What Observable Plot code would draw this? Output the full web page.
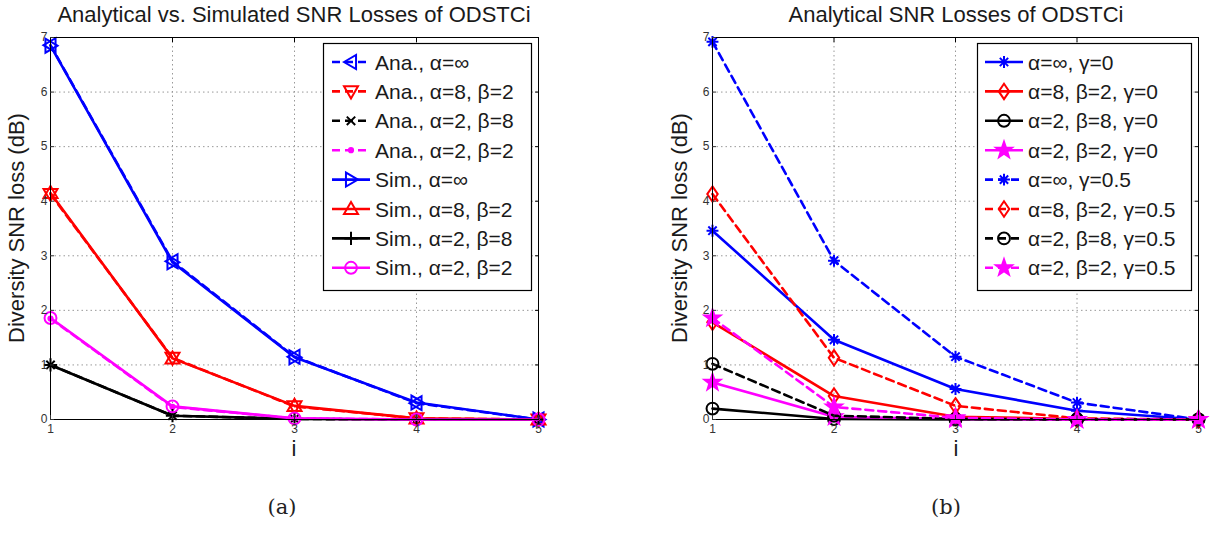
<!DOCTYPE html>
<html><head><meta charset="utf-8">
<script src="https://cdn.jsdelivr.net/npm/d3@7"></script>
<script src="https://cdn.jsdelivr.net/npm/@observablehq/plot@0.6"></script>
<style>
body{margin:0;background:#fff;font-family:"Liberation Sans",Arial,Helvetica,sans-serif;}
#wrap{position:relative;width:1213px;height:533px;overflow:hidden;background:#fff;}
.abs{position:absolute;white-space:nowrap;}
.abs svg{max-width:none !important;}
.title{font-size:22px;color:#1a1a1a;transform:translateX(-50%);}
.ylab{font-size:22px;color:#1a1a1a;transform:translate(-50%,-50%) rotate(-90deg);}
.xlab{font-size:22px;color:#1a1a1a;transform:translate(-50%,-50%);}
.cap{font-family:"DejaVu Serif","Liberation Serif",serif;font-size:21px;color:#222;transform:translate(-50%,-50%);}
</style></head>
<body><div id="wrap"></div>
<script>
// ---------- data ----------
const iValues = [1, 2, 3, 4, 5];
const yTicks = [0, 1, 2, 3, 4, 5, 6, 7];

// (a) Analytical vs simulated
const anaInf = [6.86, 2.90, 1.15, 0.30, 0];
const ana82  = [4.13, 1.13, 0.24, 0.02, 0];
const ana28  = [1.00, 0.07, 0.01, 0.00, 0];
const ana22  = [1.85, 0.23, 0.02, 0.00, 0];
const simInf = [6.85, 2.88, 1.14, 0.31, 0];
const sim82  = [4.15, 1.12, 0.25, 0.02, 0];
const sim28  = [1.00, 0.07, 0.01, 0.00, 0];
const sim22  = [1.86, 0.24, 0.02, 0.00, 0];

// (b) Analytical, gamma = 0 and gamma = 0.5
const g0Inf = [3.46, 1.46, 0.56, 0.16, 0];
const g0_82 = [1.78, 0.43, 0.05, 0.01, 0];
const g0_28 = [0.20, 0.01, 0.00, 0.00, 0];
const g0_22 = [0.68, 0.05, 0.01, 0.00, 0];
const g5Inf = [6.92, 2.91, 1.15, 0.31, 0];
const g5_82 = [4.13, 1.13, 0.25, 0.02, 0];
const g5_28 = [1.02, 0.07, 0.01, 0.00, 0];
const g5_22 = [1.86, 0.23, 0.03, 0.00, 0];

const leftLabels = ["Ana., α=∞","Ana., α=8, β=2","Ana., α=2, β=8","Ana., α=2, β=2",
                    "Sim., α=∞","Sim., α=8, β=2","Sim., α=2, β=8","Sim., α=2, β=2"];
const rightLabels = ["α=∞, γ=0","α=8, β=2, γ=0","α=2, β=8, γ=0","α=2, β=2, γ=0",
                     "α=∞, γ=0.5","α=8, β=2, γ=0.5","α=2, β=8, γ=0.5","α=2, β=2, γ=0.5"];
const titleA = "Analytical vs. Simulated SNR Losses of ODSTCi";
const titleB = "Analytical SNR Losses of ODSTCi";
const yLabel = "Diversity SNR loss (dB)";
const xLabel = "i";

// ---------- symbols ----------
const rad = s => Math.sqrt(s / Math.PI);
function poly(pts){return {draw(c,s){const r=rad(s);pts.forEach(([x,y],k)=>k?c.lineTo(x*r,y*r):c.moveTo(x*r,y*r));c.closePath();}};}
const triLeft = poly([[-1,0],[0.72,-1],[0.72,1]]);
const triRight = poly([[1,0],[-0.72,-1],[-0.72,1]]);
const triDown = poly([[0,1],[-1,-0.72],[1,-0.72]]);
const triUp = poly([[0,-1],[-1,0.72],[1,0.72]]);
const diamond = poly([[0,-1.1],[0.75,0],[0,1.1],[-0.75,0]]);
const timesSym = {draw(c,s){const r=rad(s)*0.6;c.moveTo(-r,-r);c.lineTo(r,r);c.moveTo(r,-r);c.lineTo(-r,r);}};
const plusSym = {draw(c,s){const r=rad(s)*0.95;c.moveTo(-r,0);c.lineTo(r,0);c.moveTo(0,-r);c.lineTo(0,r);}};
const asterisk = {draw(c,s){const r=rad(s)*0.85,d=r*0.7;c.moveTo(-r,0);c.lineTo(r,0);c.moveTo(0,-r);c.lineTo(0,r);c.moveTo(-d,-d);c.lineTo(d,d);c.moveTo(d,-d);c.lineTo(-d,d);}};
const circleSym = {draw(c,s){const r=rad(s)*0.85;c.moveTo(r,0);c.arc(0,0,r,0,2*Math.PI);}};
const dotSym = {draw(c,s){const r=rad(s)*0.3;c.moveTo(r,0);c.arc(0,0,r,0,2*Math.PI);}};
const pentagram = {draw(c,s){const R=rad(s)*1.2,ri=R*0.4;for(let k=0;k<10;k++){const a=-Math.PI/2+k*Math.PI/5,rr=k%2?ri:R;const x=rr*Math.cos(a),y=rr*Math.sin(a);k?c.lineTo(x,y):c.moveTo(x,y);}c.closePath();}};

const BLUE="#0000ff", RED="#ff0000", BLACK="#000000", MAG="#ff00ff";
const DASH="8,5";

const leftSeries = [
  {label:leftLabels[0], values:anaInf, color:BLUE,  dash:true,  sym:triLeft},
  {label:leftLabels[1], values:ana82,  color:RED,   dash:true,  sym:triDown},
  {label:leftLabels[2], values:ana28,  color:BLACK, dash:true,  sym:timesSym},
  {label:leftLabels[3], values:ana22,  color:MAG,   dash:true,  sym:dotSym, fill:true},
  {label:leftLabels[4], values:simInf, color:BLUE,  dash:false, sym:triRight},
  {label:leftLabels[5], values:sim82,  color:RED,   dash:false, sym:triUp},
  {label:leftLabels[6], values:sim28,  color:BLACK, dash:false, sym:plusSym},
  {label:leftLabels[7], values:sim22,  color:MAG,   dash:false, sym:circleSym}
];
const rightSeries = [
  {label:rightLabels[0], values:g0Inf, color:BLUE,  dash:false, sym:asterisk},
  {label:rightLabels[1], values:g0_82, color:RED,   dash:false, sym:diamond},
  {label:rightLabels[2], values:g0_28, color:BLACK, dash:false, sym:circleSym},
  {label:rightLabels[3], values:g0_22, color:MAG,   dash:false, sym:pentagram, fill:true},
  {label:rightLabels[4], values:g5Inf, color:BLUE,  dash:true,  sym:asterisk},
  {label:rightLabels[5], values:g5_82, color:RED,   dash:true,  sym:diamond},
  {label:rightLabels[6], values:g5_28, color:BLACK, dash:true,  sym:circleSym},
  {label:rightLabels[7], values:g5_22, color:MAG,   dash:true,  sym:pentagram, fill:true}
];

const fmt = d => String(d);

function makePlot(series, width, marginRight){
  const marks = [
    Plot.gridY(yTicks.slice(1,-1), {stroke:"#999", strokeOpacity:1, strokeDasharray:"1.5,3"}),
    Plot.gridX(iValues.slice(1,-1), {stroke:"#999", strokeOpacity:1, strokeDasharray:"1.5,3"})
  ];
  for (const s of series) {
    const rows = iValues.map((i,k)=>({i, v:s.values[k]}));
    marks.push(Plot.line(rows, {x:"i", y:"v", stroke:s.color, strokeWidth:2.6, strokeDasharray:s.dash?DASH:null}));
    marks.push(Plot.dot(rows, {x:"i", y:"v", symbol:s.sym, r:7, stroke:s.color, strokeWidth:2, fill:s.fill?s.color:"none"}));
  }
  marks.push(Plot.frame({stroke:"#000", strokeWidth:1}));
  marks.push(Plot.axisY(yTicks, {tickSize:-4, tickPadding:7, tickFormat:fmt, label:null, fontSize:12, color:"#333"}));
  marks.push(Plot.axisY(yTicks, {anchor:"right", tickSize:-4, tickFormat:()=>"", label:null}));
  marks.push(Plot.axisX(iValues, {tickSize:-4, tickPadding:9, tickFormat:fmt, label:null, fontSize:12, color:"#333"}));
  marks.push(Plot.axisX(iValues, {anchor:"top", tickSize:-4, tickFormat:()=>"", label:null}));
  return Plot.plot({
    width, height:460, marginLeft:50, marginRight, marginTop:37, marginBottom:41,
    x:{type:"linear", domain:[1,5]},
    y:{type:"linear", domain:[0,7]},
    style:{background:"transparent", fontFamily:"Liberation Sans, Arial, sans-serif", overflow:"visible", maxWidth:"none"},
    marks
  });
}

function makeLegend(series, w, h, lineX0, lineX1, textX){
  const svg = d3.create("svg").attr("width", w).attr("height", h).style("overflow","visible");
  svg.append("rect").attr("x",0.5).attr("y",0.5).attr("width",w-1).attr("height",h-1)
     .attr("fill","#fff").attr("stroke","#000").attr("stroke-width",1.2);
  series.forEach((s,k)=>{
    const cy = 19 + k*29.4;
    const g = svg.append("g");
    g.append("line").attr("x1",lineX0).attr("x2",lineX1).attr("y1",cy).attr("y2",cy)
      .attr("stroke",s.color).attr("stroke-width",2.6).attr("stroke-dasharray",s.dash?DASH:null);
    g.append("path").attr("transform",`translate(${(lineX0+lineX1)/2},${cy})`)
      .attr("d", d3.symbol(s.sym, 49*Math.PI)())
      .attr("stroke",s.color).attr("stroke-width",2).attr("fill",s.fill?s.color:"none");
    g.append("text").attr("x",textX).attr("y",cy+7.5).attr("font-size",21)
      .attr("font-family","Liberation Sans, Arial, sans-serif").attr("fill","#1a1a1a").text(s.label);
  });
  return svg.node();
}

const wrap = document.getElementById("wrap");
function place(node, left, top){const d=document.createElement("div");d.className="abs";d.style.left=left+"px";d.style.top=top+"px";d.appendChild(node);wrap.appendChild(d);return d;}
function label(text, cls, left, top){const d=document.createElement("div");d.className="abs "+cls;d.style.left=left+"px";d.style.top=top+"px";d.textContent=text;wrap.appendChild(d);}

place(makePlot(leftSeries, 560, 22), 0, 0);
place(makePlot(rightSeries, 548, 12), 662, 0);
place(makeLegend(leftSeries, 209, 248, 9, 47, 52), 323, 43);
place(makeLegend(rightSeries, 215, 248, 8, 46, 51), 977, 43);

label(titleA, "title", 294, 2);
label(titleB, "title", 956, 2);
label(yLabel, "ylab", 17, 228);
label(yLabel, "ylab", 680, 228);
label(xLabel, "xlab", 294, 449);
label(xLabel, "xlab", 956, 449);
label("(a)", "cap", 282, 507);
label("(b)", "cap", 946, 507);
</script></body></html>
